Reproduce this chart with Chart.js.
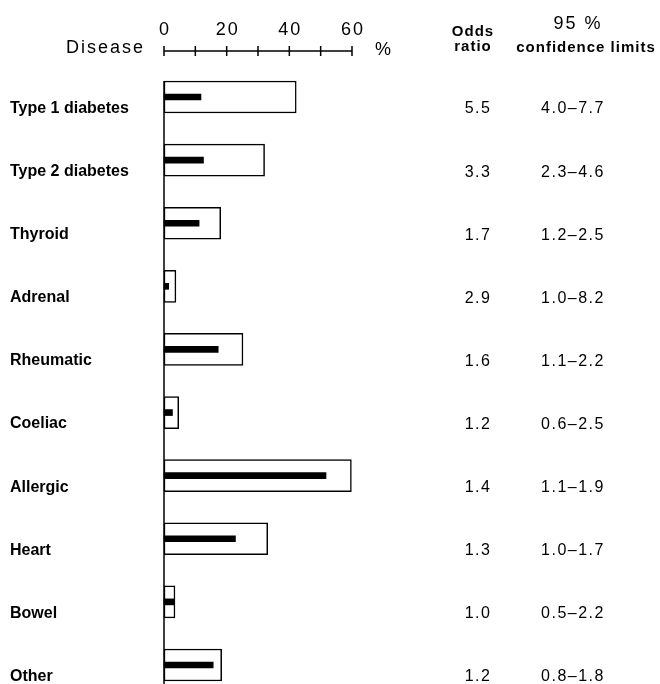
<!DOCTYPE html>
<html>
<head>
<meta charset="utf-8">
<script src="https://cdn.jsdelivr.net/npm/chart.js@4.4.1/dist/chart.umd.min.js"></script>
<style>
  html, body { margin: 0; padding: 0; background: #fff; }
  #wrap { width: 660px; height: 684px; }
</style>
</head>
<body>
<div id="wrap"><canvas id="myChart" width="660" height="684"></canvas></div>
<script>
// categories and values
const diseases = ['Type 1 diabetes', 'Type 2 diabetes', 'Thyroid', 'Adrenal', 'Rheumatic',
  'Coeliac', 'Allergic', 'Heart', 'Bowel', 'Other'];
const outerPct = [42.2, 32.1, 18.1, 3.8, 25.2, 4.7, 59.8, 33.1, 3.5, 18.4];
const innerPct = [11.8, 12.6, 11.2, 1.5, 17.3, 2.7, 51.7, 22.8, 3.2, 15.7];
const oddsRatios = ['5.5', '3.3', '1.7', '2.9', '1.6', '1.2', '1.4', '1.3', '1.0', '1.2'];
const ciLimits = ['4.0–7.7', '2.3–4.6', '1.2–2.5', '1.0–8.2', '1.1–2.2', '0.6–2.5',
  '1.1–1.9', '1.0–1.7', '0.5–2.2', '0.8–1.8'];
const xTicks = [0, 10, 20, 30, 40, 50, 60];
const xTickLabels = ['0', '', '20', '', '40', '', '60'];

const SANS = '"Liberation Sans", Arial, Helvetica, sans-serif';

// draws the top % axis, the left axis line and the two text columns
const extras = {
  id: 'extras',
  afterDraw(chart) {
    const ctx = chart.ctx;
    const x = chart.scales.x;
    const y = chart.scales.y;
    const axisY = 51;
    ctx.save();
    ctx.strokeStyle = '#000';
    ctx.fillStyle = '#000';
    ctx.lineWidth = 1.5;

    // top axis
    ctx.beginPath();
    ctx.moveTo(x.getPixelForValue(xTicks[0]), axisY);
    ctx.lineTo(x.getPixelForValue(xTicks[xTicks.length - 1]), axisY);
    xTicks.forEach(function(t) {
      const px = x.getPixelForValue(t);
      ctx.moveTo(px, axisY - 5);
      ctx.lineTo(px, axisY + 5);
    });
    ctx.stroke();

    ctx.font = '18px ' + SANS;
    ctx.letterSpacing = '2px';
    ctx.textAlign = 'center';
    ctx.textBaseline = 'middle';
    xTicks.forEach(function(t, i) {
      if (xTickLabels[i]) ctx.fillText(xTickLabels[i], x.getPixelForValue(t) + 1, 30);
    });
    ctx.textAlign = 'right';
    ctx.letterSpacing = '2px';
    ctx.fillText('Disease', 145, 48);
    ctx.textAlign = 'center';
    ctx.letterSpacing = '0px';
    ctx.fillText('%', 383, 50);

    // left axis line
    ctx.beginPath();
    ctx.moveTo(x.getPixelForValue(0), y.getPixelForValue(0) - 16);
    ctx.lineTo(x.getPixelForValue(0), chart.height);
    ctx.stroke();

    // column headers
    ctx.font = 'bold 15px ' + SANS;
    ctx.letterSpacing = '1px';
    ctx.fillText('Odds', 473, 32);
    ctx.fillText('ratio', 473, 47);
    ctx.fillText('confidence limits', 586, 48);
    ctx.font = '18px ' + SANS;
    ctx.letterSpacing = '2px';
    ctx.fillText('95 %', 578, 24);

    // odds ratios and confidence limits
    ctx.font = '16px ' + SANS;
    ctx.letterSpacing = '1.5px';
    diseases.forEach(function(d, i) {
      const py = y.getPixelForValue(i) + 12;
      ctx.fillText(oddsRatios[i], 478, py);
      ctx.fillText(ciLimits[i], 573, py);
    });
    ctx.restore();
  }
};

new Chart(document.getElementById('myChart'), {
  type: 'bar',
  data: {
    labels: diseases,
    datasets: [
      {
        label: 'inner',
        data: innerPct,
        backgroundColor: '#000',
        borderWidth: 0,
        barThickness: 6,
        grouped: false,
        order: 1,
        clip: false
      },
      {
        label: 'outer',
        data: outerPct,
        backgroundColor: '#fff',
        borderColor: '#000',
        borderWidth: 1.5,
        borderSkipped: false,
        barThickness: 32,
        grouped: false,
        order: 2,
        clip: false
      }
    ]
  },
  plugins: [extras],
  options: {
    indexAxis: 'y',
    responsive: false,
    animation: false,
    layout: { padding: { left: 10, top: 97, right: 308, bottom: 19 } },
    plugins: { legend: { display: false }, tooltip: { enabled: false } },
    scales: {
      x: { display: false, min: 0, max: 60 },
      y: {
        offset: false,
        grid: { display: false },
        border: { display: false },
        afterFit: function(scale) { scale.width = 154; },
        ticks: {
          crossAlign: 'far',
          labelOffset: 11.5,
          color: '#000',
          font: { family: SANS, size: 16, weight: 'bold' }
        }
      }
    }
  }
});
</script>
</body>
</html>
